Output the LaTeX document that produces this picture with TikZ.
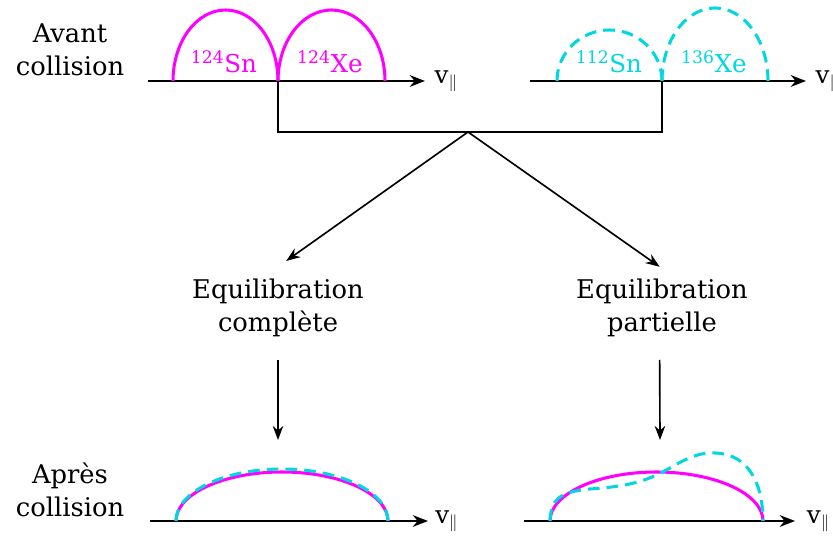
\documentclass[tikz,border=0pt]{standalone}
\usepackage{fontspec}
\setmainfont{DejaVu Serif}
\usetikzlibrary{arrows.meta}
\definecolor{heavycol}{RGB}{255,0,255}
\definecolor{mixcol}{RGB}{0,215,222}
\tikzset{
  axis/.style={line width=1.9pt, -{Stealth[length=13pt,width=10pt]}},
  flow/.style={line width=1.4pt, -{Stealth[length=12pt,width=9pt]}},
  bracket/.style={line width=1.7pt},
  heavy/.style={draw=heavycol, line width=2.6pt},
  mixed/.style={draw=mixcol, line width=2.6pt, dash pattern=on 10pt off 6pt},
  sidelabel/.style={align=center, font=\fontsize{22}{28}\selectfont},
  isolabel/.style={font=\fontsize{21}{24}\selectfont},
  vlabel/.style={anchor=west, inner sep=0pt, font=\fontsize{21}{24}\selectfont},
}

\begin{document}
\begin{tikzpicture}[x=0.03cm, y=0.03cm]
\useasboundingbox (0,0) rectangle (833,536);
% avant collision
\node[sidelabel] (avant) at (70,486) {Avant\\collision};
\coordinate (ax1s) at (148,455);
\coordinate (ax1e) at (425,455);
\coordinate (ax2s) at (530,455);
\coordinate (ax2e) at (806,455);
\draw[axis] (ax1s) -- (ax1e);
\node[vlabel] (v1) at ([xshift=8]ax1e) {v\textsubscript{$\|$}};
\draw[axis] (ax2s) -- (ax2e);
\node[vlabel] (v2) at ([xshift=8]ax2e) {v\textsubscript{$\|$}};
\draw[heavy] (173,455) arc[start angle=180, end angle=0, x radius=52.5, y radius=71];
\draw[heavy] (278,455) arc[start angle=180, end angle=0, x radius=53.5, y radius=71];
\draw[mixed] (557,455) arc[start angle=180, end angle=0, x radius=52.5, y radius=51];
\draw[mixed] (662,455) arc[start angle=180, end angle=0, x radius=53, y radius=73];
\node[isolabel, text=heavycol] (sn1) at (224,474) {\textsuperscript{124}Sn};
\node[isolabel, text=heavycol] (xe1) at (330,474) {\textsuperscript{124}Xe};
\node[isolabel, text=mixcol] (sn2) at (609,474) {\textsuperscript{112}Sn};
\node[isolabel, text=mixcol] (xe2) at (714,474) {\textsuperscript{136}Xe};
% bracket
\coordinate (split) at (468,404);
\draw[bracket] (278,455) |- (split) -| (662,455);
% equilibration
\node[sidelabel] (eqc) at (278,228) {Equilibration\\complète};
\node[sidelabel] (eqp) at (662,228) {Equilibration\\partielle};
\draw[flow] (split) -- ([xshift=7,yshift=12]eqc.north);
\draw[flow] (split) -- ([xshift=-2,yshift=7]eqp.north);
\coordinate (endc) at (278,96);
\coordinate (endp) at (660,96);
\draw[flow] ([yshift=-16]eqc.south) -- (endc);
\draw[flow] ([xshift=-2,yshift=-16]eqp.south) -- (endp);
% apres collision
\node[sidelabel] (apres) at (70,46) {Après\\collision};
\coordinate (ax3s) at (150,15);
\coordinate (ax3e) at (428,15);
\coordinate (ax4s) at (524,15);
\coordinate (ax4e) at (795,15);
\draw[axis] (ax3s) -- (ax3e);
\node[vlabel] (v3) at ([xshift=6]ax3e) {v\textsubscript{$\|$}};
\draw[axis] (ax4s) -- (ax4e);
\node[vlabel] (v4) at ([xshift=10]ax4e) {v\textsubscript{$\|$}};
\draw[heavy] (176,15) arc[start angle=180, end angle=0, x radius=106, y radius=49];
\draw[mixed] (176,15) arc[start angle=180, end angle=0, x radius=106, y radius=52];
\draw[heavy] (550,15) arc[start angle=180, end angle=0, x radius=106.5, y radius=49];
\draw[mixed] (550,15) .. controls (551,36) and (558,44) .. (590,47)
  .. controls (635,50) and (650,57) .. (670,68)
  .. controls (690,80) and (703,84) .. (715,83)
  .. controls (750,82) and (763,50) .. (763,15);
\end{tikzpicture}
\end{document}
